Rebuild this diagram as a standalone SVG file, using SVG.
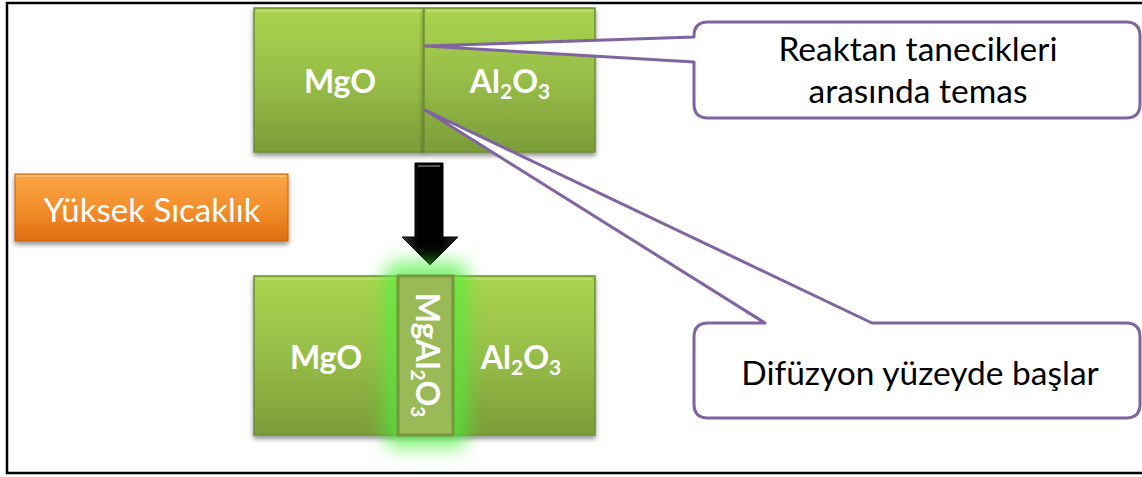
<svg xmlns="http://www.w3.org/2000/svg" width="1142" height="477" viewBox="0 0 1142 477">
  <style>
    .lbl { font-family: Lato, "Liberation Sans", sans-serif; font-weight: bold; fill: #ffffff; font-size: 32px; text-anchor: middle; }
    .txt { font-family: Lato, "Liberation Sans", sans-serif; fill: #000000; font-size: 33.5px; text-anchor: middle; }
    .btxt { font-family: Lato, "Liberation Sans", sans-serif; fill: #ffffff; font-size: 33px; text-anchor: middle; }
    .blk { fill: url(#gGreen); stroke: #6e8e33; stroke-width: 1.5; filter: url(#shadow); }
    .hl { fill: none; stroke: #c4e27a; stroke-width: 2; opacity: 0.7; }
    .callout { fill: #ffffff; stroke: #8064a2; stroke-width: 3; stroke-linejoin: round; }
  </style>
  <defs>
    <linearGradient id="gGreen" x1="0" y1="0" x2="0" y2="1">
      <stop offset="0" stop-color="#aad44f"/>
      <stop offset="0.5" stop-color="#97bd48"/>
      <stop offset="1" stop-color="#7b9d39"/>
    </linearGradient>
    <linearGradient id="gOrange" x1="0" y1="0" x2="0" y2="1">
      <stop offset="0" stop-color="#fba545"/>
      <stop offset="0.55" stop-color="#f28d2a"/>
      <stop offset="1" stop-color="#df6c10"/>
    </linearGradient>
    <linearGradient id="gArrow" x1="0" y1="0" x2="1" y2="0">
      <stop offset="0" stop-color="#3a3a3a"/>
      <stop offset="0.3" stop-color="#000000"/>
      <stop offset="0.7" stop-color="#000000"/>
      <stop offset="1" stop-color="#2a2a2a"/>
    </linearGradient>
    <filter id="shadow" x="-10%" y="-10%" width="120%" height="130%">
      <feGaussianBlur in="SourceAlpha" stdDeviation="2.5"/>
      <feOffset dx="0" dy="3" result="b"/>
      <feComponentTransfer><feFuncA type="linear" slope="0.45"/></feComponentTransfer>
      <feMerge><feMergeNode/><feMergeNode in="SourceGraphic"/></feMerge>
    </filter>
    <filter id="glow" x="-80%" y="-30%" width="260%" height="160%">
      <feGaussianBlur stdDeviation="9"/>
    </filter>
  </defs>

  <rect x="0" y="0" width="1142" height="477" fill="#ffffff"/>
  <rect id="frame" x="7" y="3" width="1145" height="470" fill="none" stroke="#000000" stroke-width="2.5"/>

  <g id="mgo-top">
    <rect class="blk" x="254" y="8" width="170" height="144"/>
    <path class="hl" d="M257,11 H421"/>
    <text class="lbl" x="340" y="93">MgO</text>
  </g>
  <g id="al2o3-top">
    <rect class="blk" x="424" y="8" width="171" height="144"/>
    <path class="hl" d="M427,11 H592"/>
    <text class="lbl" x="510" y="93">Al<tspan font-size="21" dy="6">2</tspan><tspan dy="-6">O</tspan><tspan font-size="21" dy="6">3</tspan></text>
  </g>

  <g id="temperature">
    <rect x="15" y="174" width="273" height="67" fill="url(#gOrange)" stroke="#c9600c" stroke-width="1" filter="url(#shadow)"/>
    <path d="M17,176 H286" stroke="#fdc27d" stroke-width="2" fill="none" opacity="0.8"/>
    <text class="btxt" x="152" y="222">Yüksek Sıcaklık</text>
  </g>

  <g id="connectors">
    <path id="arrow" d="M415,163 H443 V237 H458 L430,265 L402,237 H415 Z" fill="url(#gArrow)" stroke="#000000" stroke-width="1"/>
    <path d="M418,166 H440" stroke="#555555" stroke-width="2" fill="none"/>
  </g>

  <g id="mgo-bottom">
    <rect class="blk" x="254" y="276" width="171" height="159"/>
    <path class="hl" d="M257,279 H422"/>
    <text class="lbl" x="326" y="369">MgO</text>
  </g>
  <g id="al2o3-bottom">
    <rect class="blk" x="425" y="276" width="170" height="159"/>
    <path class="hl" d="M428,279 H592"/>
    <text class="lbl" x="521" y="369">Al<tspan font-size="21" dy="6">2</tspan><tspan dy="-6">O</tspan><tspan font-size="21" dy="6">3</tspan></text>
  </g>
  <g id="mgal2o4">
    <rect x="384" y="262" width="84" height="186" rx="14" fill="#4cf03a" opacity="0.7" filter="url(#glow)"/>
    <rect x="398" y="276" width="55" height="159" fill="#9aba58" stroke="#7a943f" stroke-width="3"/>
    <text class="lbl" font-size="27" transform="translate(416,355) rotate(90)">MgAl<tspan font-size="19" dy="5">2</tspan><tspan dy="-5">O</tspan><tspan font-size="19" dy="5">3</tspan></text>
  </g>

  <g id="callout-contact">
    <path class="callout" d="M708,22 H1126 Q1140,22 1140,36 V104 Q1140,118 1126,118 H708 Q694,118 694,104 V62 L425,46 L694,37 V36 Q694,22 708,22 Z"/>
    <text class="txt" x="918" y="61">Reaktan tanecikleri</text>
    <text class="txt" x="918" y="103">arasında temas</text>
  </g>
  <g id="callout-diffusion">
    <path class="callout" d="M708,323 H765 L425,110 L872,323 H1126 Q1140,323 1140,337 V404 Q1140,418 1126,418 H708 Q694,418 694,404 V337 Q694,323 708,323 Z"/>
    <text class="txt" x="920" y="385">Difüzyon yüzeyde başlar</text>
  </g>
</svg>
